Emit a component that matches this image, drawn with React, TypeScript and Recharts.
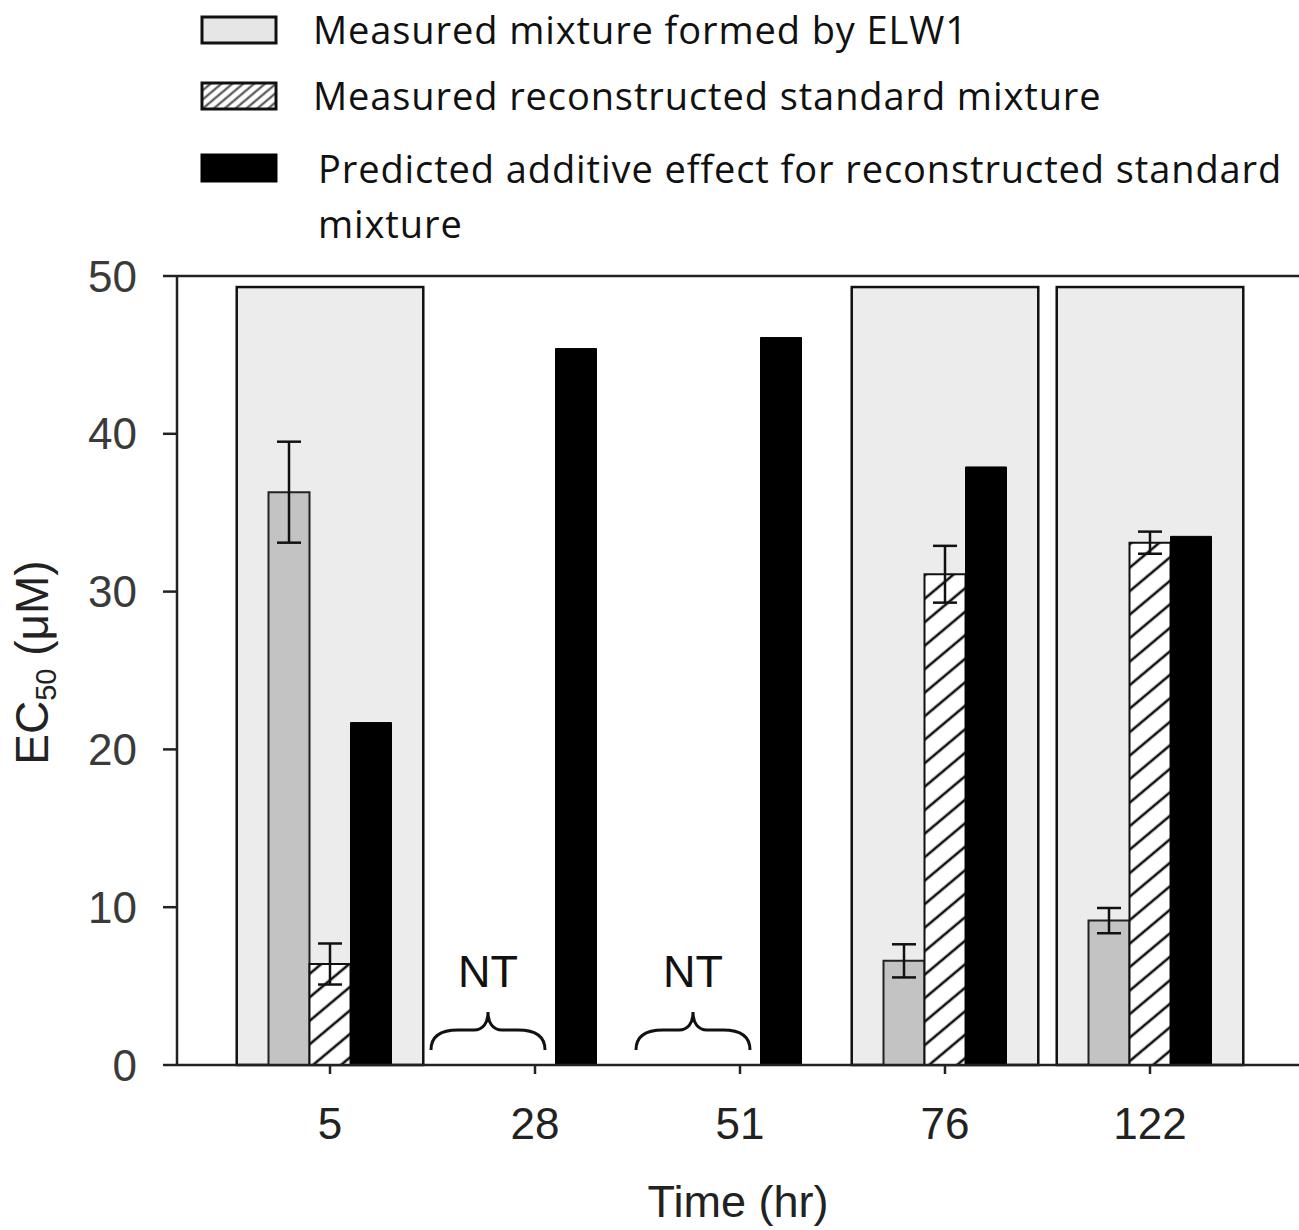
import React from 'react';
import {
  ComposedChart,
  Bar,
  XAxis,
  YAxis,
  ErrorBar,
  ReferenceArea,
  ReferenceLine,
  ReferenceDot,
  Label,
} from 'recharts';

// ---------- data ----------
const times = ['5', '28', '51', '76', '122'];
const measuredElw1 = [36.3, null, null, 6.6, 9.15];
const measuredElw1Err = [3.2, null, null, 1.05, 0.8];
const measuredRecon = [6.4, null, null, 31.1, 33.1];
const measuredReconErr = [1.3, null, null, 1.8, 0.7];
const predictedAdditive = [21.7, 45.4, 46.1, 37.9, 33.5];
const testedTimes = ['5', '76', '122'];
const testedBoxTop = 49.3;
const notTestedTimes = ['28', '51'];
const yTicks = [0, 10, 20, 30, 40, 50];
const legendLabels = [
  'Measured mixture formed by ELW1',
  'Measured reconstructed standard mixture',
  'Predicted additive effect for reconstructed standard',
  'mixture',
];

const data = times.map((t, i) => ({
  time: t,
  elw1: measuredElw1[i],
  elw1Err: measuredElw1Err[i],
  recon: measuredRecon[i],
  reconErr: measuredReconErr[i],
  predicted: predictedAdditive[i],
}));

const AXIS_FONT = '"Liberation Sans", Arial, sans-serif';
const LEGEND_FONT = '"Open Sans", "Noto Sans", sans-serif';

const BoxShape = (props: any) => {
  const { x, y, width, height } = props;
  const inset = width * 0.045;
  return (
    <rect
      x={x + inset}
      y={y}
      width={width - 2 * inset}
      height={height}
      fill="#ececec"
      stroke="#111"
      strokeWidth={2.5}
    />
  );
};

const NTShape = (props: any) => {
  const { cx, cy } = props;
  const bx = cx - 47;
  const d = `M ${bx - 57} ${cy - 15} C ${bx - 57} ${cy - 30} ${bx - 45} ${cy - 35} ${bx - 30} ${cy - 35} L ${bx - 14} ${cy - 35} C ${bx - 5} ${cy - 35} ${bx} ${cy - 42} ${bx} ${cy - 53} C ${bx} ${cy - 42} ${bx + 5} ${cy - 35} ${bx + 14} ${cy - 35} L ${bx + 30} ${cy - 35} C ${bx + 45} ${cy - 35} ${bx + 57} ${cy - 30} ${bx + 57} ${cy - 15}`;
  return (
    <g>
      <text
        x={bx}
        y={cy - 78}
        textAnchor="middle"
        fontFamily={AXIS_FONT}
        fontSize={45}
        fill="#111"
      >
        NT
      </text>
      <path d={d} fill="none" stroke="#111" strokeWidth={3} />
    </g>
  );
};

const YLabel = (props: any) => {
  const vb = props.viewBox || { x: 0, y: 0, width: 177, height: 789 };
  const cx = vb.x + 48;
  const cy = vb.y + vb.height / 2 - 8;
  return (
    <text
      transform={`rotate(-90 ${cx} ${cy})`}
      x={cx}
      y={cy}
      textAnchor="middle"
      fontFamily={AXIS_FONT}
      fontSize={46}
      fill="#222"
    >
      EC
      <tspan fontSize={29} dy={8}>
        50
      </tspan>
      <tspan dy={-8} fontSize={46}>
        {' (μM)'}
      </tspan>
    </text>
  );
};

const XLabel = (props: any) => {
  const vb = props.viewBox || { x: 177, y: 1065, width: 1122, height: 165 };
  return (
    <text
      x={vb.x + vb.width / 2}
      y={vb.y + 152}
      textAnchor="middle"
      fontFamily={AXIS_FONT}
      fontSize={45}
      fill="#222"
    >
      Time (hr)
    </text>
  );
};

const LegendBlock = () => {
  const sw = { x: 202, w: 74, h: 26 };
  const rowsY = [17, 83, 155];
  const baselines = [44, 110, 183, 238];
  const textX = [313, 313, 318, 318];
  return (
    <svg
      width={1299}
      height={260}
      style={{ position: 'absolute', left: 0, top: 0 }}
    >
      <defs>
        <pattern
          id="hatchLegend"
          patternUnits="userSpaceOnUse"
          width={7}
          height={7}
          patternTransform="rotate(50)"
        >
          <rect width={7} height={7} fill="#fff" />
          <line x1={3.5} y1={0} x2={3.5} y2={7} stroke="#444" strokeWidth={2} />
        </pattern>
      </defs>
      <rect x={sw.x} y={rowsY[0]} width={sw.w} height={sw.h} fill="#e6e6e6" stroke="#111" strokeWidth={3} />
      <rect x={sw.x} y={rowsY[1]} width={sw.w} height={sw.h} fill="url(#hatchLegend)" stroke="#111" strokeWidth={3} />
      <rect x={sw.x} y={rowsY[2]} width={sw.w} height={sw.h} fill="#000" stroke="#000" strokeWidth={3} />
      {legendLabels.map((l, i) => (
        <text
          key={i}
          x={textX[i]}
          y={baselines[i]}
          fontFamily={LEGEND_FONT}
          fontSize={38}
          letterSpacing={0.9}
          fill="#111"
        >
          {l}
        </text>
      ))}
    </svg>
  );
};

export default function App() {
  return (
    <div style={{ position: 'absolute', left: 0, top: 0, width: 1299, height: 1230, background: '#fff' }}>
      <LegendBlock />
      <div style={{ position: 'absolute', left: 0, top: 0 }}>
        <ComposedChart
          width={1299}
          height={1230}
          data={data}
          margin={{ top: 276, right: 0, bottom: 0, left: 0 }}
          barGap={0}
          barSize={41}
        >
          <defs>
            <pattern
              id="hatchBar"
              patternUnits="userSpaceOnUse"
              width={18}
              height={18}
              patternTransform="rotate(50)"
            >
              <rect width={18} height={18} fill="#fff" />
              <line x1={9} y1={0} x2={9} y2={18} stroke="#111" strokeWidth={2.6} />
            </pattern>
          </defs>
          {testedTimes.map((t) => (
            <ReferenceArea
              key={t}
              x1={t}
              x2={t}
              y1={0}
              y2={testedBoxTop}
              shape={<BoxShape />}
              ifOverflow="visible"
            />
          ))}
          <XAxis
            dataKey="time"
            type="category"
            height={165}
            padding={{ left: 50.5, right: 46.5 }}
            tickSize={9}
            tickMargin={34}
            axisLine={{ stroke: '#222', strokeWidth: 2.5 }}
            tickLine={{ stroke: '#222', strokeWidth: 2.5 }}
            tick={{ fill: '#222', fontSize: 44, fontFamily: AXIS_FONT }}
          >
            <Label content={<XLabel />} />
          </XAxis>
          <YAxis
            width={177}
            domain={[0, 50]}
            ticks={yTicks}
            interval={0}
            tickSize={14}
            tickMargin={26}
            axisLine={{ stroke: '#222', strokeWidth: 2.5 }}
            tickLine={{ stroke: '#222', strokeWidth: 2.5 }}
            tick={{ fill: '#3a3a3a', fontSize: 44, fontFamily: AXIS_FONT }}
          >
            <Label content={<YLabel />} />
          </YAxis>
          <ReferenceLine y={50} stroke="#222" strokeWidth={2.5} />
          <Bar dataKey="elw1" fill="#c3c3c3" stroke="#222" strokeWidth={2} isAnimationActive={false}>
            <ErrorBar dataKey="elw1Err" direction="y" width={12} stroke="#111" strokeWidth={2.5} isAnimationActive={false} />
          </Bar>
          <Bar dataKey="recon" fill="url(#hatchBar)" stroke="#111" strokeWidth={2} isAnimationActive={false}>
            <ErrorBar dataKey="reconErr" direction="y" width={12} stroke="#111" strokeWidth={2.5} isAnimationActive={false} />
          </Bar>
          <Bar dataKey="predicted" fill="#000" stroke="#000" strokeWidth={1} isAnimationActive={false} />
          {notTestedTimes.map((t) => (
            <ReferenceDot key={t} x={t} y={0} r={0} shape={<NTShape />} ifOverflow="visible" />
          ))}
        </ComposedChart>
      </div>
    </div>
  );
}
